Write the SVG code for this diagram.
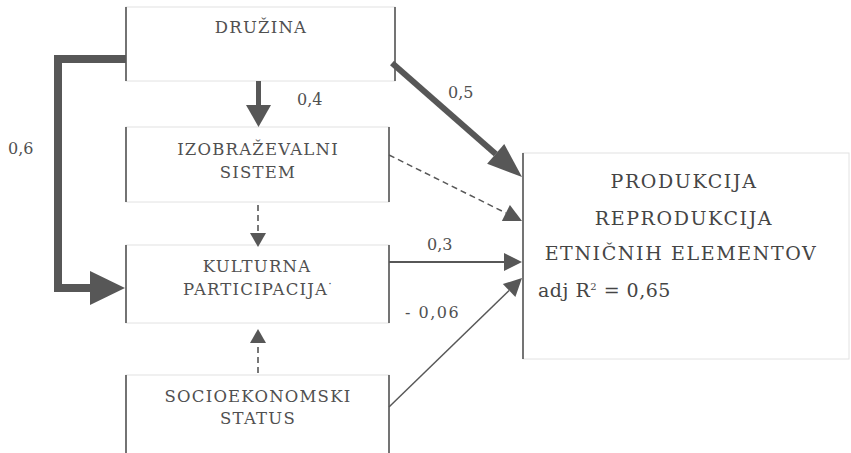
<svg xmlns="http://www.w3.org/2000/svg" width="851" height="453" viewBox="0 0 851 453">
<style>
  text { font-family: "DejaVu Serif", "Liberation Serif", serif; }
  .frame { fill: #ffffff; stroke: #e2e2e2; stroke-width: 1; }
  .side { stroke: #555555; stroke-width: 1.6; fill: none; }
  .lbl { font-size: 16.5px; letter-spacing: 1.2px; fill: #505050; text-anchor: middle; }
  .num { font-size: 16px; fill: #505050; }
  .big { font-size: 19px; letter-spacing: 1.6px; fill: #454545; text-anchor: middle; }
  .adj { font-size: 19px; letter-spacing: 0.5px; fill: #454545; }
  .c { stroke: #575757; fill: none; }
  .dash { stroke-dasharray: 6 4; }
</style>
<defs>
  <marker id="hL" markerUnits="userSpaceOnUse" markerWidth="35" markerHeight="34" refX="0" refY="17" orient="auto" overflow="visible">
    <path d="M0,0 L35,17 L0,34 z" fill="#575757"/>
  </marker>
  <marker id="hBig" markerUnits="userSpaceOnUse" markerWidth="35" markerHeight="26" refX="0" refY="13" orient="auto" overflow="visible">
    <path d="M0,0 L35,13 L0,26 z" fill="#575757"/>
  </marker>
  <marker id="hMid" markerUnits="userSpaceOnUse" markerWidth="22" markerHeight="25" refX="0" refY="12.5" orient="auto" overflow="visible">
    <path d="M0,0 L22,12.5 L0,25 z" fill="#575757"/>
  </marker>
  <marker id="hSm" markerUnits="userSpaceOnUse" markerWidth="18" markerHeight="18" refX="0" refY="9" orient="auto" overflow="visible">
    <path d="M0,0 L18,9 L0,18 z" fill="#575757"/>
  </marker>
  <marker id="hDash" markerUnits="userSpaceOnUse" markerWidth="14" markerHeight="16" refX="0" refY="8" orient="auto" overflow="visible">
    <path d="M0,0 L14,8 L0,16 z" fill="#575757"/>
  </marker>
</defs>

<g id="druzina">
  <rect class="frame" x="126" y="7" width="269" height="74"/>
  <path class="side" d="M126,7 V81 M395,7 V81"/>
  <text class="lbl" x="261" y="33">DRUŽINA</text>
</g>

<g id="izobrazevalni">
  <rect class="frame" x="126" y="127" width="263" height="75"/>
  <path class="side" d="M126,127 V202 M389,127 V202"/>
  <text class="lbl" x="258" y="155">IZOBRAŽEVALNI</text>
  <text class="lbl" x="258" y="178">SISTEM</text>
</g>

<g id="kulturna">
  <rect class="frame" x="126" y="245" width="263" height="78"/>
  <path class="side" d="M126,245 V323 M389,245 V323"/>
  <text class="lbl" x="257" y="272">KULTURNA</text>
  <text class="lbl" x="258" y="295">PARTICIPACIJA<tspan font-size="11" dy="-7">·</tspan></text>
</g>

<g id="socio">
  <rect class="frame" x="126" y="375" width="263" height="90"/>
  <path class="side" d="M126,375 V453 M389,375 V453"/>
  <text class="lbl" x="258" y="402">SOCIOEKONOMSKI</text>
  <text class="lbl" x="258" y="424">STATUS</text>
</g>

<g id="produkcija">
  <rect class="frame" x="523" y="153" width="326" height="206"/>
  <path class="side" d="M523,153 V359"/>
  <text class="big" x="684" y="188">PRODUKCIJA</text>
  <text class="big" x="684" y="225">REPRODUKCIJA</text>
  <text class="big" x="681" y="260">ETNIČNIH ELEMENTOV</text>
  <text class="adj" x="538" y="297">adj R<tspan font-size="10" dy="-7">2</tspan><tspan dy="7"> = 0,65</tspan></text>
</g>

<g id="connectors">
  <path class="c" stroke-width="8" stroke-linejoin="miter" d="M126,59 H58 V288 H90" marker-end="url(#hL)"/>
  <line class="c" stroke-width="5" x1="258.5" y1="81" x2="258.5" y2="105" marker-end="url(#hMid)"/>
  <line class="c dash" stroke-width="1.6" x1="258" y1="205" x2="258" y2="233" marker-end="url(#hDash)"/>
  <line class="c dash" stroke-width="1.6" x1="258" y1="373" x2="258" y2="343" marker-end="url(#hDash)"/>
  <line class="c" stroke-width="6" x1="392" y1="63" x2="495.7" y2="153.9" marker-end="url(#hBig)"/>
  <line class="c dash" stroke-width="1.5" x1="389" y1="155" x2="505.9" y2="213" marker-end="url(#hSm)"/>
  <line class="c" stroke-width="2" x1="389" y1="262" x2="504" y2="262" marker-end="url(#hSm)"/>
  <line class="c" stroke-width="1.5" x1="389" y1="407" x2="509.1" y2="290.5" marker-end="url(#hSm)"/>
  <text class="num" x="297" y="105">0,4</text>
  <text class="num" x="8" y="154">0,6</text>
  <text class="num" x="448" y="98">0,5</text>
  <text class="num" x="427" y="250">0,3</text>
  <text class="num" x="405" y="318" letter-spacing="1.5">- 0,06</text>
</g>
</svg>
